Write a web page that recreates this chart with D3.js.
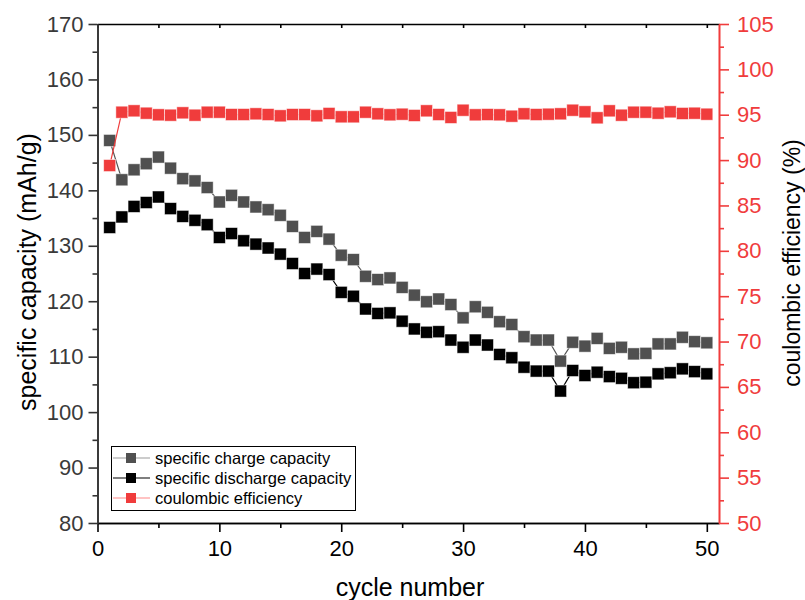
<!DOCTYPE html>
<html>
<head>
<meta charset="utf-8">
<script src="https://cdn.jsdelivr.net/npm/d3@7"></script>
<style>
  body { margin: 0; background: #fff; }
  svg { display: block; font-family: "Liberation Sans", Arial, sans-serif; }
</style>
</head>
<body>
<svg id="chart" width="805" height="600"></svg>
<script>
const cycles = d3.range(1, 51);
const chargeCapacity = [
  149.0, 141.9, 143.7, 144.8, 146.0, 144.0, 142.1, 141.7, 140.5, 137.9,
  139.1, 137.9, 137.0, 136.5, 135.5, 133.5, 131.5, 132.6, 131.2, 128.3,
  127.5, 124.5, 123.9, 124.2, 122.5, 121.1, 119.9, 120.4, 119.4, 117.0,
  119.0, 118.0, 116.3, 115.8, 113.6, 113.0, 113.0, 109.2, 112.6, 111.9,
  113.3, 111.5, 111.7, 110.5, 110.6, 112.3, 112.3, 113.5, 112.7, 112.5
];
const dischargeCapacity = [
  133.3, 135.2, 137.1, 137.8, 138.8, 136.7, 135.3, 134.6, 133.8, 131.5,
  132.2, 130.9, 130.3, 129.6, 128.5, 126.8, 125.0, 125.8, 124.8, 121.6,
  120.9, 118.6, 117.8, 117.9, 116.4, 115.0, 114.4, 114.5, 113.0, 111.7,
  113.0, 112.1, 110.4, 109.8, 108.1, 107.4, 107.4, 103.8, 107.5, 106.6,
  107.2, 106.4, 106.1, 105.3, 105.4, 106.9, 107.1, 107.8, 107.3, 106.9
];
const coulombicEfficiency = [
  89.4, 95.28, 95.43, 95.17, 94.99, 94.95, 95.21, 94.95, 95.28, 95.28,
  95.02, 95.02, 95.10, 95.02, 94.88, 95.02, 95.02, 94.88, 95.14, 94.77,
  94.77, 95.28, 95.10, 94.99, 95.06, 94.92, 95.43, 95.02, 94.70, 95.50,
  94.99, 95.02, 94.99, 94.84, 95.10, 95.02, 95.06, 95.10, 95.50, 95.32,
  94.66, 95.43, 94.95, 95.28, 95.28, 95.17, 95.32, 95.14, 95.17, 95.06
];
const xTicks = [0, 10, 20, 30, 40, 50];
const xMinorTicks = [5, 15, 25, 35, 45];
const leftTicks = [80, 90, 100, 110, 120, 130, 140, 150, 160, 170];
const leftMinorTicks = [85, 95, 105, 115, 125, 135, 145, 155, 165];
const rightTicks = [50, 55, 60, 65, 70, 75, 80, 85, 90, 95, 100, 105];
const rightMinorTicks = [52.5, 57.5, 62.5, 67.5, 72.5, 77.5, 82.5, 87.5, 92.5, 97.5, 102.5];
const seriesNames = ["specific charge capacity", "specific discharge capacity", "coulombic efficiency"];

const RED = "#f03c3c";
const GRAY = "#505050";
const svg = d3.select("#chart");
svg.append("rect").attr("width", 805).attr("height", 600).attr("fill", "#fff");

const L = 97.5, R = 719, T = 24, B = 523;
const x = d3.scaleLinear().domain([0, 51]).range([L, R]);
const yL = d3.scaleLinear().domain([80, 170]).range([B, T]);
const yR = d3.scaleLinear().domain([50, 105]).range([B, T]);

function styleAxis(g, color, size) {
  g.selectAll("path").attr("stroke", color).attr("stroke-width", 1.6);
  g.selectAll("line").attr("stroke", color).attr("stroke-width", 1.6);
  g.selectAll("text").attr("fill", color).style("font-size", size + "px")
    .style("font-family", "'Liberation Sans', Arial, sans-serif");
}

// top axis (inward ticks)
const gTop = svg.append("g").attr("transform", `translate(0,${T})`)
  .call(d3.axisTop(x).tickValues(xTicks.concat(xMinorTicks)).tickSize(-4).tickSizeOuter(0).tickFormat(""));
styleAxis(gTop, "#000", 20);

// bottom axis
const gBm = svg.append("g").attr("transform", `translate(0,${B})`)
  .call(d3.axisBottom(x).tickValues(xMinorTicks).tickSize(5).tickSizeOuter(0).tickFormat(""));
styleAxis(gBm, "#000", 20);
const gB = svg.append("g").attr("transform", `translate(0,${B})`)
  .call(d3.axisBottom(x).tickValues(xTicks).tickSize(9).tickPadding(8).tickSizeOuter(0));
styleAxis(gB, "#000", 22);

// left axis
const gLm = svg.append("g").attr("transform", `translate(${L},0)`)
  .call(d3.axisLeft(yL).tickValues(leftMinorTicks).tickSize(5).tickSizeOuter(0).tickFormat(""));
styleAxis(gLm, "#333", 20);
const gL = svg.append("g").attr("transform", `translate(${L},0)`)
  .call(d3.axisLeft(yL).tickValues(leftTicks).tickSize(9).tickPadding(5).tickSizeOuter(0));
styleAxis(gL, "#333", 22);
gL.selectAll("text").attr("fill", "#3a3a3a");

// right axis
const gRm = svg.append("g").attr("transform", `translate(${R},0)`)
  .call(d3.axisRight(yR).tickValues(rightMinorTicks).tickSize(5).tickSizeOuter(0).tickFormat(""));
styleAxis(gRm, RED, 20);
const gR = svg.append("g").attr("transform", `translate(${R},0)`)
  .call(d3.axisRight(yR).tickValues(rightTicks).tickSize(10).tickPadding(8).tickSizeOuter(0));
styleAxis(gR, RED, 22);

// titles
svg.append("text").attr("x", 410).attr("y", 596).attr("text-anchor", "middle")
  .style("font-size", "25px").attr("fill", "#000").text("cycle number");
svg.append("text").attr("transform", "translate(36,272) rotate(-90)").attr("text-anchor", "middle")
  .style("font-size", "25px").attr("fill", "#000").text("specific capacity (mAh/g)");
svg.append("text").attr("transform", "translate(800,263) rotate(-90)").attr("text-anchor", "middle")
  .style("font-size", "23px").attr("fill", "#000").text("coulombic efficiency (%)");

// series
const MS = 12;
function drawSeries(values, yScale, color, lineColor) {
  const data = cycles.map((c, i) => [c, values[i]]);
  svg.append("path").datum(data)
    .attr("fill", "none").attr("stroke", lineColor).attr("stroke-width", 1.2)
    .attr("d", d3.line().x(d => x(d[0])).y(d => yScale(d[1])));
  svg.append("g").selectAll("rect").data(data).join("rect")
    .attr("x", d => x(d[0]) - MS / 2).attr("y", d => yScale(d[1]) - MS / 2)
    .attr("width", MS).attr("height", MS)
    .attr("fill", color).attr("stroke", "#fff").attr("stroke-opacity", 0.6).attr("stroke-width", 0.8);
}
drawSeries(chargeCapacity, yL, GRAY, "#555");
drawSeries(dischargeCapacity, yL, "#000", "#000");
drawSeries(coulombicEfficiency, yR, RED, RED);

// legend
const lg = svg.append("g");
lg.append("rect").attr("x", 111.5).attr("y", 446.5).attr("width", 244).attr("height", 64)
  .attr("fill", "#fff").attr("stroke", "#000").attr("stroke-width", 1);
const legendColors = [GRAY, "#000", RED];
const legendLineColors = ["#999", "#000", "#f88"];
seriesNames.forEach((name, i) => {
  const cy = 458 + i * 20;
  lg.append("line").attr("x1", 113).attr("x2", 150).attr("y1", cy).attr("y2", cy)
    .attr("stroke", legendLineColors[i]).attr("stroke-width", 1.2);
  lg.append("rect").attr("x", 126).attr("y", cy - 5).attr("width", 10).attr("height", 10)
    .attr("fill", legendColors[i]);
  lg.append("text").attr("x", 155).attr("y", cy).attr("dy", "0.35em")
    .style("font-size", "16.5px").attr("fill", "#000").text(name);
});
</script>
</body>
</html>
